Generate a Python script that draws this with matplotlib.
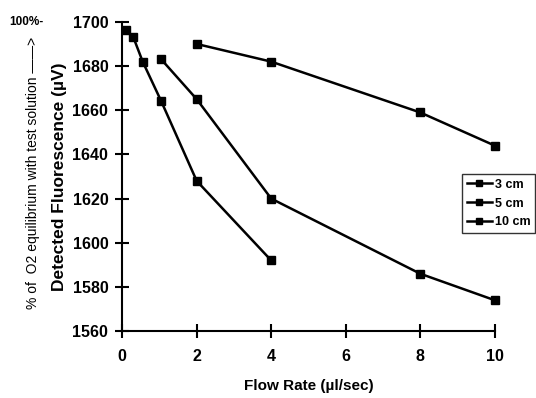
import matplotlib
matplotlib.use("Agg")
import matplotlib.pyplot as plt
from matplotlib.lines import Line2D

plt.rcParams['font.family'] = ['Liberation Sans', 'DejaVu Sans']

x_3cm = [0.1, 0.3, 0.55, 1.05, 2.0, 4.0]
y_3cm = [1696.5, 1693, 1682, 1664, 1628, 1592]
x_5cm = [1.05, 2.0, 4.0, 8.0, 10.0]
y_5cm = [1683, 1665, 1620, 1586, 1574]
x_10cm = [2.0, 4.0, 8.0, 10.0]
y_10cm = [1690, 1682, 1659, 1644]
labels = ["3 cm", "5 cm", "10 cm"]
xticks = [0, 2, 4, 6, 8, 10]
yticks = [1560, 1580, 1600, 1620, 1640, 1660, 1680, 1700]

fig = plt.figure(figsize=(5.36, 3.98), dpi=100)
ax = fig.add_axes([0.228, 0.168, 0.695, 0.777])

for xs, ys in [(x_3cm, y_3cm), (x_5cm, y_5cm), (x_10cm, y_10cm)]:
    ax.plot(xs, ys, color='black', lw=1.8, marker='s', ms=6, clip_on=False)

ax.set_xlim(0, 10)
ax.set_ylim(1560, 1700)
ax.set_xticks(xticks)
ax.set_yticks(yticks)
for s in ['top', 'right']:
    ax.spines[s].set_visible(False)
for s in ['left', 'bottom']:
    ax.spines[s].set_linewidth(1.5)
ax.tick_params(direction='inout', length=10, width=1.5, labelsize=11.5)
for t in ax.get_xticklabels() + ax.get_yticklabels():
    t.set_fontweight('bold')
ax.tick_params(axis='x', pad=8)
ax.tick_params(axis='y', pad=5)

ax.set_xlabel("Flow Rate (µl/sec)", fontsize=11, fontweight='bold', labelpad=11)
ax.set_ylabel("Detected Fluorescence (µV)", fontsize=12.5, fontweight='bold', labelpad=4)

fig.text(0.062, 0.565, "% of  O2 equilibrium with test solution ——>", rotation=90,
         fontsize=10, ha='center', va='center')
fig.text(0.018, 0.945, "100%-", fontsize=8.5, fontweight='bold', ha='left', va='center')

handles = [Line2D([], [], color='black', lw=1.8, marker='s', ms=5) for _ in labels]
leg = fig.legend(handles, labels, loc='upper right', bbox_to_anchor=(0.999, 0.562),
                 frameon=True, fancybox=False, edgecolor='black',
                 prop={'weight': 'bold', 'size': 9}, handlelength=2.0,
                 borderpad=0.35, labelspacing=0.55, handletextpad=0.3,
                 borderaxespad=0)
leg.get_frame().set_linewidth(1.0)

fig.savefig("out.png", dpi=100)
